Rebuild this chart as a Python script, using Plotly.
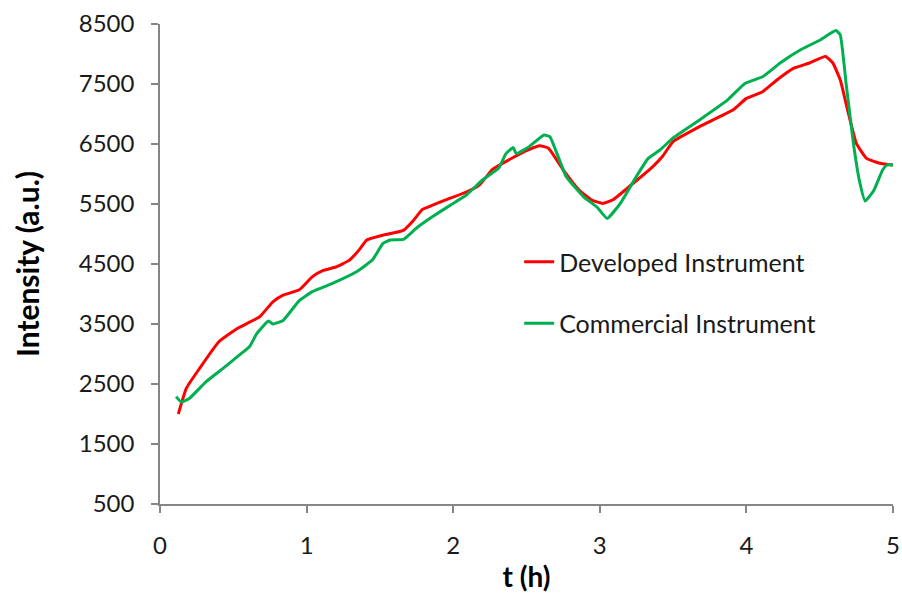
import plotly.graph_objects as go

dev_t = [0.125, 0.18, 0.27, 0.40, 0.53, 0.68, 0.77, 0.84, 0.95, 1.04, 1.11, 1.20, 1.29, 1.36, 1.41,
         1.52, 1.66, 1.73, 1.79, 1.86, 1.95, 2.09, 2.18, 2.27, 2.39, 2.52, 2.59, 2.65, 2.75, 2.86,
         2.95, 3.02, 3.09, 3.23, 3.36, 3.43, 3.50, 3.68, 3.91, 4.00, 4.11, 4.21, 4.32, 4.43, 4.54,
         4.59, 4.64, 4.69, 4.75, 4.82, 4.91, 5.00]
dev_val = [2000, 2430, 2760, 3200, 3430, 3620, 3870, 3980, 4070, 4290, 4390, 4450, 4560, 4740, 4900,
           4980, 5060, 5230, 5410, 5480, 5570, 5700, 5820, 6080, 6250, 6410, 6470, 6430, 6070, 5730,
           5560, 5510, 5570, 5850, 6120, 6300, 6540, 6790, 7070, 7260, 7370, 7570, 7760, 7850, 7960,
           7850, 7570, 7070, 6510, 6260, 6180, 6150]

com_t = [0.11, 0.145, 0.20, 0.315, 0.43, 0.54, 0.61, 0.66, 0.74, 0.77, 0.84, 0.95, 1.04, 1.18, 1.34,
         1.45, 1.52, 1.57, 1.66, 1.75, 1.86, 1.98, 2.09, 2.20, 2.31, 2.36, 2.41, 2.43, 2.52, 2.62,
         2.66, 2.77, 2.89, 2.98, 3.05, 3.14, 3.25, 3.33, 3.41, 3.50, 3.68, 3.87, 3.99, 4.11, 4.23,
         4.37, 4.50, 4.61, 4.64, 4.68, 4.73, 4.77, 4.81, 4.87, 4.93, 4.96, 5.00]
com_val = [2290, 2200, 2260, 2540, 2760, 2980, 3120, 3340, 3550, 3500, 3560, 3890, 4040, 4180, 4370,
           4570, 4840, 4900, 4910, 5100, 5290, 5480, 5650, 5900, 6100, 6340, 6440, 6340, 6460, 6650,
           6620, 5960, 5620, 5450, 5260, 5510, 5960, 6260, 6400, 6600, 6900, 7230, 7510, 7620, 7850,
           8070, 8230, 8390, 8320, 7510, 6510, 5900, 5550, 5730, 6070, 6150, 6150]

y_ticks = [500, 1500, 2500, 3500, 4500, 5500, 6500, 7500, 8500]
x_ticks = [0, 1, 2, 3, 4, 5]

FONT = "Lato"

fig = go.Figure()
fig.add_trace(go.Scatter(x=dev_t, y=dev_val, mode="lines", name="Developed Instrument",
                         legendgroup="a", line=dict(color="#FF0000", width=3, shape="spline", smoothing=0.4)))
fig.add_trace(go.Scatter(x=com_t, y=com_val, mode="lines", name="Commercial Instrument",
                         legendgroup="b", line=dict(color="#00B050", width=3, shape="spline", smoothing=0.4)))

axis_common = dict(showgrid=False, zeroline=False, showline=True, linecolor="#868686", linewidth=1.5,
                   ticks="outside", tickcolor="#868686", ticklen=7, tickwidth=1.5,
                   tickfont=dict(family=FONT, size=24, color="#1a1a1a"))

fig.update_xaxes(range=[0, 5], tickvals=x_ticks, ticklabelstandoff=12,
                 title=dict(text="<b>t (h)</b>", font=dict(family=FONT, size=28, color="#000"), standoff=10),
                 **axis_common)
fig.update_yaxes(range=[500, 8500], tickvals=y_ticks, ticklabelstandoff=12,
                 title=dict(text="<b>Intensity (a.u.)</b>", font=dict(family=FONT, size=30, color="#000"), standoff=30),
                 **axis_common)

fig.update_layout(
    width=902, height=602,
    margin=dict(l=160, r=9, t=24, b=98, autoexpand=False),
    plot_bgcolor="white", paper_bgcolor="white",
    legend=dict(x=0.49, y=0.552, xanchor="left", yanchor="top", traceorder="grouped",
                tracegroupgap=26, bgcolor="rgba(0,0,0,0)",
                font=dict(family=FONT, size=25, color="#1a1a1a")),
    showlegend=True,
)

fig.write_html("out.html", config={"displayModeBar": False},
               post_script="document.body.style.margin='0';document.body.style.overflow='hidden';")
